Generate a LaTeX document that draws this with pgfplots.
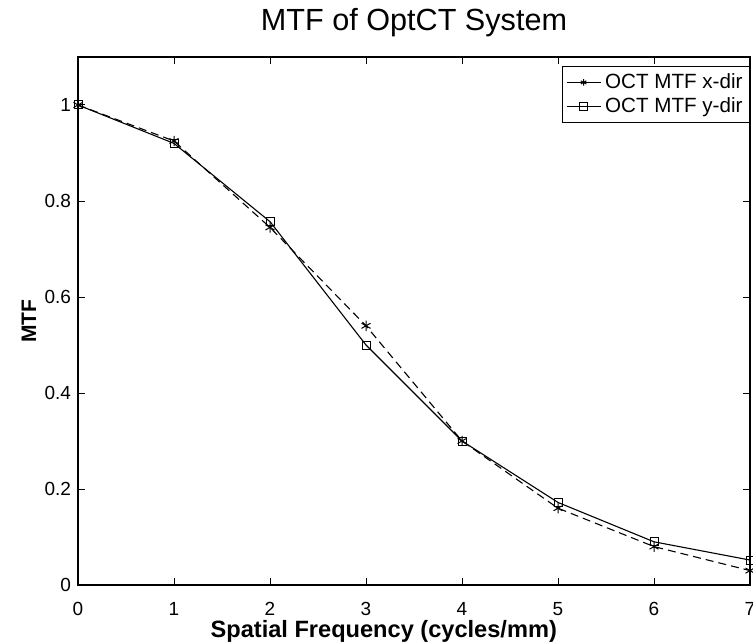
\documentclass[border=0pt]{standalone}
\usepackage{pgfplots}
\pgfplotsset{compat=1.18}
\usepackage{fontspec}
\setmainfont{Liberation Sans}
\usetikzlibrary{calc}

\begin{document}
\begin{tikzpicture}
\begin{axis}[
  scale only axis,
  width=336pt, height=264pt,
  xmin=0, xmax=7, ymin=0, ymax=1.1,
  xtick={0,1,2,3,4,5,6,7},
  ytick={0,0.2,0.4,0.6,0.8,1},
  yticklabels={0,0.2,0.4,0.6,0.8,1},
  tick align=inside,
  major tick length=3.5pt,
  xtick pos=both, ytick pos=both,
  xticklabel pos=bottom, yticklabel pos=left,
  tick style={black, line width=0.5pt},
  axis line style={black, line width=0.6pt},
  /pgf/number format/assume math mode=true,
  tick label style={font=\fontsize{9.5}{11}\selectfont},
  xticklabel style={yshift=-5pt},
  title={MTF of OptCT System},
  title style={font=\fontsize{15.3}{18}\selectfont, at={(axis description cs:0.5,1.0417)}, anchor=center},
  xlabel={Spatial Frequency (cycles/mm)},
  xlabel style={font=\fontsize{11.8}{14}\selectfont\bfseries, at={(axis description cs:0.455,-0.087)}, anchor=center},
  ylabel={MTF},
  ylabel style={font=\fontsize{10.5}{12}\selectfont\bfseries, at={(axis description cs:-0.073,0.5)}, anchor=center},
  legend style={
    at={(rel axis cs:1.0,0.983)}, anchor=north east,
    draw=black, line width=0.5pt,
    font=\fontsize{10.3}{12}\selectfont,
    inner sep=1.5pt, row sep=-1pt,
  },
  legend cell align=left,
]
% x-direction MTF
\addplot[black, line width=0.55pt, dash pattern=on 4pt off 2.5pt,
  mark=asterisk, mark size=2.6pt, mark options={solid, line width=0.5pt},
  legend image post style={solid, mark size=1.6pt}]
  coordinates {(0,1) (1,0.925) (2,0.745) (3,0.54) (4,0.30) (5,0.16) (6,0.08) (7,0.03)};
\addlegendentry{OCT MTF x-dir}
% y-direction MTF
\addplot[black, line width=0.55pt,
  mark=square, mark size=2pt, mark options={solid, line width=0.5pt}]
  coordinates {(0,1) (1,0.92) (2,0.757) (3,0.50) (4,0.30) (5,0.172) (6,0.09) (7,0.052)};
\addlegendentry{OCT MTF y-dir}
\end{axis}
\pgfresetboundingbox
\path[use as bounding box] ($(current axis.south west)+(-39pt,-29pt)$) rectangle ($(current axis.north east)+(1.5pt,28.5pt)$);
\end{tikzpicture}
\end{document}
